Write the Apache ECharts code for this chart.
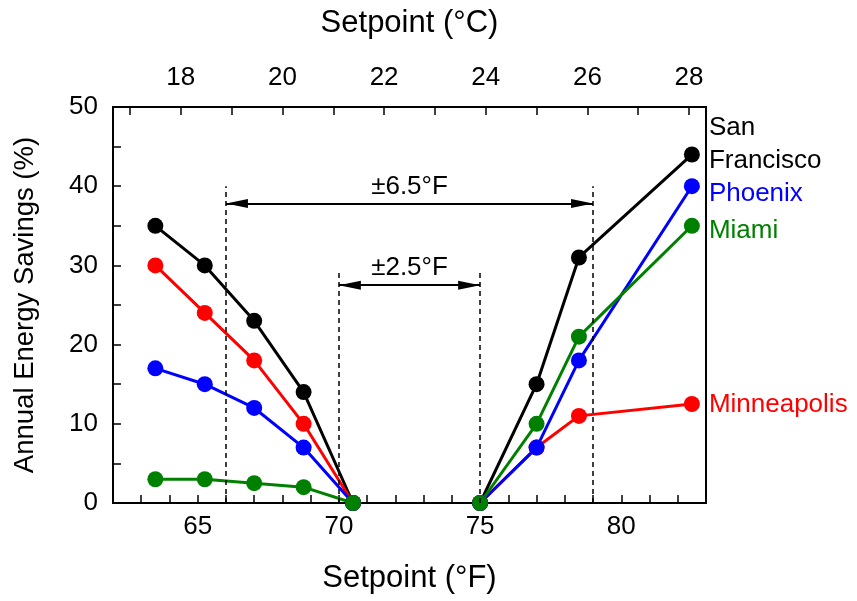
<!DOCTYPE html>
<html>
<head>
<meta charset="utf-8">
<script src="https://cdn.jsdelivr.net/npm/echarts@6/dist/echarts.min.js"></script>
<style>html,body{margin:0;padding:0;background:#fff}#c{width:857px;height:601px}</style>
</head>
<body>
<div id="c"></div>
<script>
// ---- data ----
const leftF = [63.5, 65.25, 67, 68.75, 70.5];
const rightF = [75, 77, 78.5, 82.5];
const cities = ['San Francisco', 'Minneapolis', 'Phoenix', 'Miami'];
const sfLeft = [35, 30, 23, 14, 0];
const sfRight = [0, 15, 31, 44];
const mnLeft = [30, 24, 18, 10, 0];
const mnRight = [0, 7, 11, 12.5];
const phLeft = [17, 15, 12, 7, 0];
const phRight = [0, 7, 18, 40];
const miLeft = [3, 3, 2.5, 2, 0];
const miRight = [0, 10, 21, 35];
const fTickLabels = [65, 70, 75, 80];
const cTicks = [17, 18, 19, 20, 21, 22, 23, 24, 25, 26, 27, 28];
const cTickLabels = [18, 20, 22, 24, 26, 28];
const band6 = [66, 79];   // ±6.5°F band (°F)
const band2 = [70, 75];   // ±2.5°F band (°F)
const band6Top = 40, band6Arrow = 37.8;
const band2Top = 29.3, band2Arrow = 27.5;

const FONT = "'Liberation Sans', Arial, sans-serif";
const DEG = '\u00B0';
const c2f = c => c * 1.8 + 32;
const pair = (xs, ys) => xs.map((x, i) => [x, ys[i]]);

const colors = {'San Francisco': '#000000', 'Minneapolis': '#ff0000', 'Phoenix': '#0000ff', 'Miami': '#008000'};
const leftData = {'San Francisco': sfLeft, 'Minneapolis': mnLeft, 'Phoenix': phLeft, 'Miami': miLeft};
const rightData = {'San Francisco': sfRight, 'Minneapolis': mnRight, 'Phoenix': phRight, 'Miami': miRight};
const labelText = {'San Francisco': 'San\nFrancisco', 'Minneapolis': 'Minneapolis', 'Phoenix': 'Phoenix', 'Miami': 'Miami'};
const labelOffset = {'San Francisco': -10, 'Minneapolis': 1, 'Phoenix': 8, 'Miami': 5};

const series = [];
cities.forEach(name => {
  const base = {
    type: 'line', xAxisIndex: 0, yAxisIndex: 0,
    symbol: 'circle', symbolSize: 16,
    itemStyle: {color: colors[name]},
    lineStyle: {color: colors[name], width: 3},
    animation: false, clip: false
  };
  series.push(Object.assign({}, base, {name: name, data: pair(leftF, leftData[name])}));
  series.push(Object.assign({}, base, {name: name + ' r', data: pair(rightF, rightData[name]),
    endLabel: {show: true, formatter: labelText[name], color: colors[name], fontSize: 26,
      fontFamily: FONT, distance: 17, offset: [0, labelOffset[name]], lineHeight: 33, align: 'left'}
  }));
});

// annotation series
const dash = {type: [5, 4], color: '#000', width: 1.5};
const arrowEnd = {symbol: 'triangle', symbolSize: [9, 22], symbolKeepAspect: false, symbolOffset: [0, 11]};
series.push({
  type: 'line', data: [], xAxisIndex: 0, yAxisIndex: 0, animation: false, silent: true,
  markLine: {
    silent: true, animation: false, symbol: ['none', 'none'],
    lineStyle: dash, label: {show: false},
    data: [
      [{coord: [band6[0], 0]}, {coord: [band6[0], band6Top]}],
      [{coord: [band6[1], 0]}, {coord: [band6[1], band6Top]}],
      [{coord: [band2[0], 0]}, {coord: [band2[0], band2Top]}],
      [{coord: [band2[1], 0]}, {coord: [band2[1], band2Top]}]
    ]
  }
});
series.push({
  type: 'line', data: [], xAxisIndex: 0, yAxisIndex: 0, animation: false, silent: true,
  itemStyle: {color: '#000'},
  markLine: {
    silent: true, animation: false, symbol: ['triangle', 'triangle'], symbolSize: 14,
    lineStyle: {type: 'solid', color: '#000', width: 2},
    itemStyle: {color: '#000'},
    label: {show: true, position: 'middle', color: '#000', fontSize: 26, fontFamily: FONT, distance: 4},
    data: [
      [Object.assign({coord: [band6[0], band6Arrow], name: '±6.5' + DEG + 'F'}, arrowEnd), Object.assign({coord: [band6[1], band6Arrow]}, arrowEnd)],
      [Object.assign({coord: [band2[0], band2Arrow], name: '±2.5' + DEG + 'F'}, arrowEnd), Object.assign({coord: [band2[1], band2Arrow]}, arrowEnd)]
    ]
  }
});

const axisLine = {show: true, lineStyle: {color: '#000', width: 2}};
const option = {
  backgroundColor: '#fff',
  animation: false,
  grid: {left: 113, right: 151, top: 107, bottom: 98, show: true, borderColor: '#000', borderWidth: 2},
  xAxis: [
    {
      type: 'value', position: 'bottom', min: 62, max: 83, interval: 1,
      name: 'Setpoint (' + DEG + 'F)', nameLocation: 'middle', nameGap: 60,
      nameTextStyle: {fontSize: 31, fontFamily: FONT, color: '#000'},
      axisLine: axisLine, splitLine: {show: false},
      axisTick: {show: true, inside: true, length: 8, lineStyle: {color: '#000', width: 1.5}},
      axisLabel: {fontSize: 26, fontFamily: FONT, color: '#000', margin: 11,
        formatter: v => fTickLabels.indexOf(v) >= 0 ? String(v) : ''}
    },
    {
      type: 'value', position: 'top', min: 62, max: 83,
      name: 'Setpoint (' + DEG + 'C)', nameLocation: 'middle', nameGap: 68,
      nameTextStyle: {fontSize: 31, fontFamily: FONT, color: '#000'},
      axisLine: axisLine, splitLine: {show: false},
      axisTick: {show: true, inside: true, length: 8, customValues: cTicks.map(c2f), lineStyle: {color: '#000', width: 1.5}},
      axisLabel: {fontSize: 26, fontFamily: FONT, color: '#000', margin: 16,
        customValues: cTickLabels.map(c2f), formatter: v => String(Math.round((v - 32) / 1.8))}
    }
  ],
  yAxis: [
    {
      type: 'value', min: 0, max: 50, interval: 5,
      name: 'Annual Energy Savings (%)', nameLocation: 'middle', nameGap: 74,
      nameTextStyle: {fontSize: 27.5, fontFamily: FONT, color: '#000'},
      axisLine: axisLine, splitLine: {show: false},
      axisTick: {show: true, inside: true, length: 8, lineStyle: {color: '#000', width: 1.5}},
      axisLabel: {fontSize: 26, fontFamily: FONT, color: '#000', margin: 15,
        formatter: v => v % 10 === 0 ? String(v) : ''}
    }
  ],
  series: series
};
const chart = echarts.init(document.getElementById('c'), null, {renderer: 'canvas'});
chart.setOption(option);
</script>
</body>
</html>
